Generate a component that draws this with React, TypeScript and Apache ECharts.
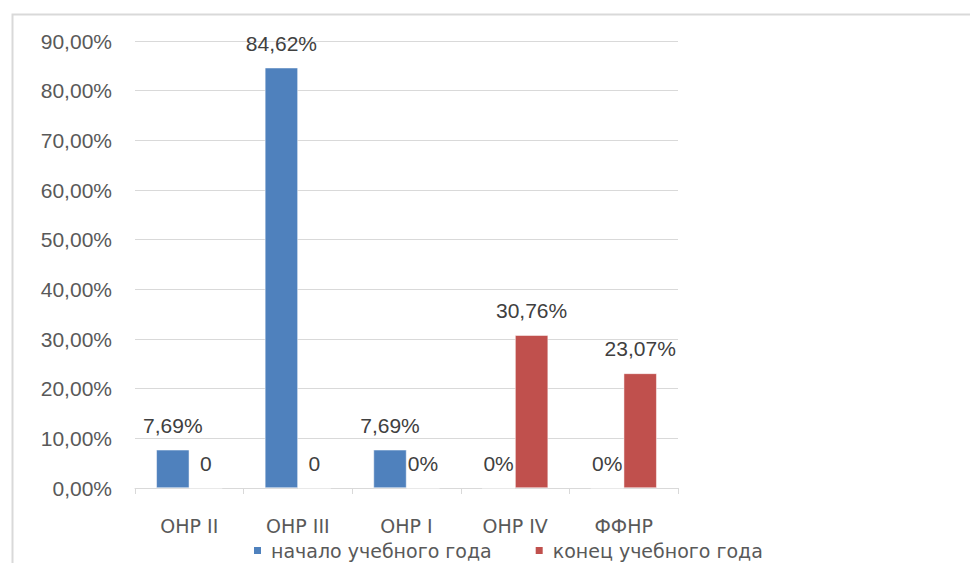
import React, { useEffect, useRef } from "react";
import * as echarts from "echarts";

const categories = ["ОНР II", "ОНР III", "ОНР I", "ОНР IV", "ФФНР"];
const seriesNames = ["начало учебного года", "конец учебного года"];
const startValues = [7.69, 84.62, 7.69, 0, 0];
const endValues = [0, 0, 0, 30.76, 23.07];
const startLabels = ["7,69%", "84,62%", "7,69%", "0%", "0%"];
const endLabels = ["0", "0", "0%", "30,76%", "23,07%"];
const yMin = 0;
const yMax = 90;
const yStep = 10;

const FONT = "Liberation Sans";
const FONT2 = "DejaVu Sans";

export default function App() {
  const ref = useRef<HTMLDivElement>(null);
  useEffect(() => {
    if (!ref.current) return;
    const chart = echarts.init(ref.current, undefined, { renderer: "svg" });
    const labelStyle = {
      show: true,
      position: "top" as const,
      distance: 14,
      fontFamily: FONT,
      fontSize: 21,
      color: "#404040",
    };
    chart.setOption({
      animation: false,
      backgroundColor: "#ffffff",
      graphic: [
        {
          type: "rect",
          left: 10,
          top: 12,
          shape: { width: 1000, height: 600 },
          style: { fill: "none", stroke: "#d9d9d9", lineWidth: 2 },
          silent: true,
        },
      ],
      grid: { left: 135, right: 292, top: 41, bottom: 75 },
      legend: {
        left: 247,
        top: 536,
        itemWidth: 9,
        itemHeight: 9,
        itemGap: 42,
        icon: "rect",
        textStyle: {
          fontFamily: FONT2,
          fontSize: 19,
          color: "#595959",
          padding: [0, 0, 0, 4],
        },
        data: seriesNames,
      },
      xAxis: {
        type: "category",
        data: categories,
        axisLine: { lineStyle: { color: "#d9d9d9", width: 1 } },
        axisTick: { show: true, length: 6, lineStyle: { color: "#d9d9d9" } },
        axisLabel: {
          margin: 28,
          fontFamily: FONT2,
          fontSize: 19,
          color: "#595959",
        },
      },
      yAxis: {
        type: "value",
        min: yMin,
        max: yMax,
        interval: yStep,
        axisLine: { show: false },
        axisTick: { show: false },
        splitLine: { lineStyle: { color: "#d9d9d9", width: 1 } },
        axisLabel: {
          margin: 23,
          fontFamily: FONT,
          fontSize: 21,
          color: "#595959",
          formatter: (v: number) => v.toFixed(2).replace(".", ",") + "%",
        },
      },
      series: [
        {
          name: seriesNames[0],
          type: "bar",
          barWidth: 33,
          barGap: "0%",
          itemStyle: { color: "#4f81bd", borderColor: "#ffffff", borderWidth: 0.5 },
          label: { ...labelStyle, formatter: (p: any) => startLabels[p.dataIndex] },
          data: startValues,
        },
        {
          name: seriesNames[1],
          type: "bar",
          barWidth: 33,
          barGap: "0%",
          itemStyle: { color: "#c0504d", borderColor: "#ffffff", borderWidth: 0.5 },
          label: { ...labelStyle, formatter: (p: any) => endLabels[p.dataIndex] },
          data: endValues,
        },
      ],
    });
    return () => chart.dispose();
  }, []);
  return (
    <div
      ref={ref}
      style={{ position: "fixed", left: 0, top: 0, width: 970, height: 563 }}
    />
  );
}
